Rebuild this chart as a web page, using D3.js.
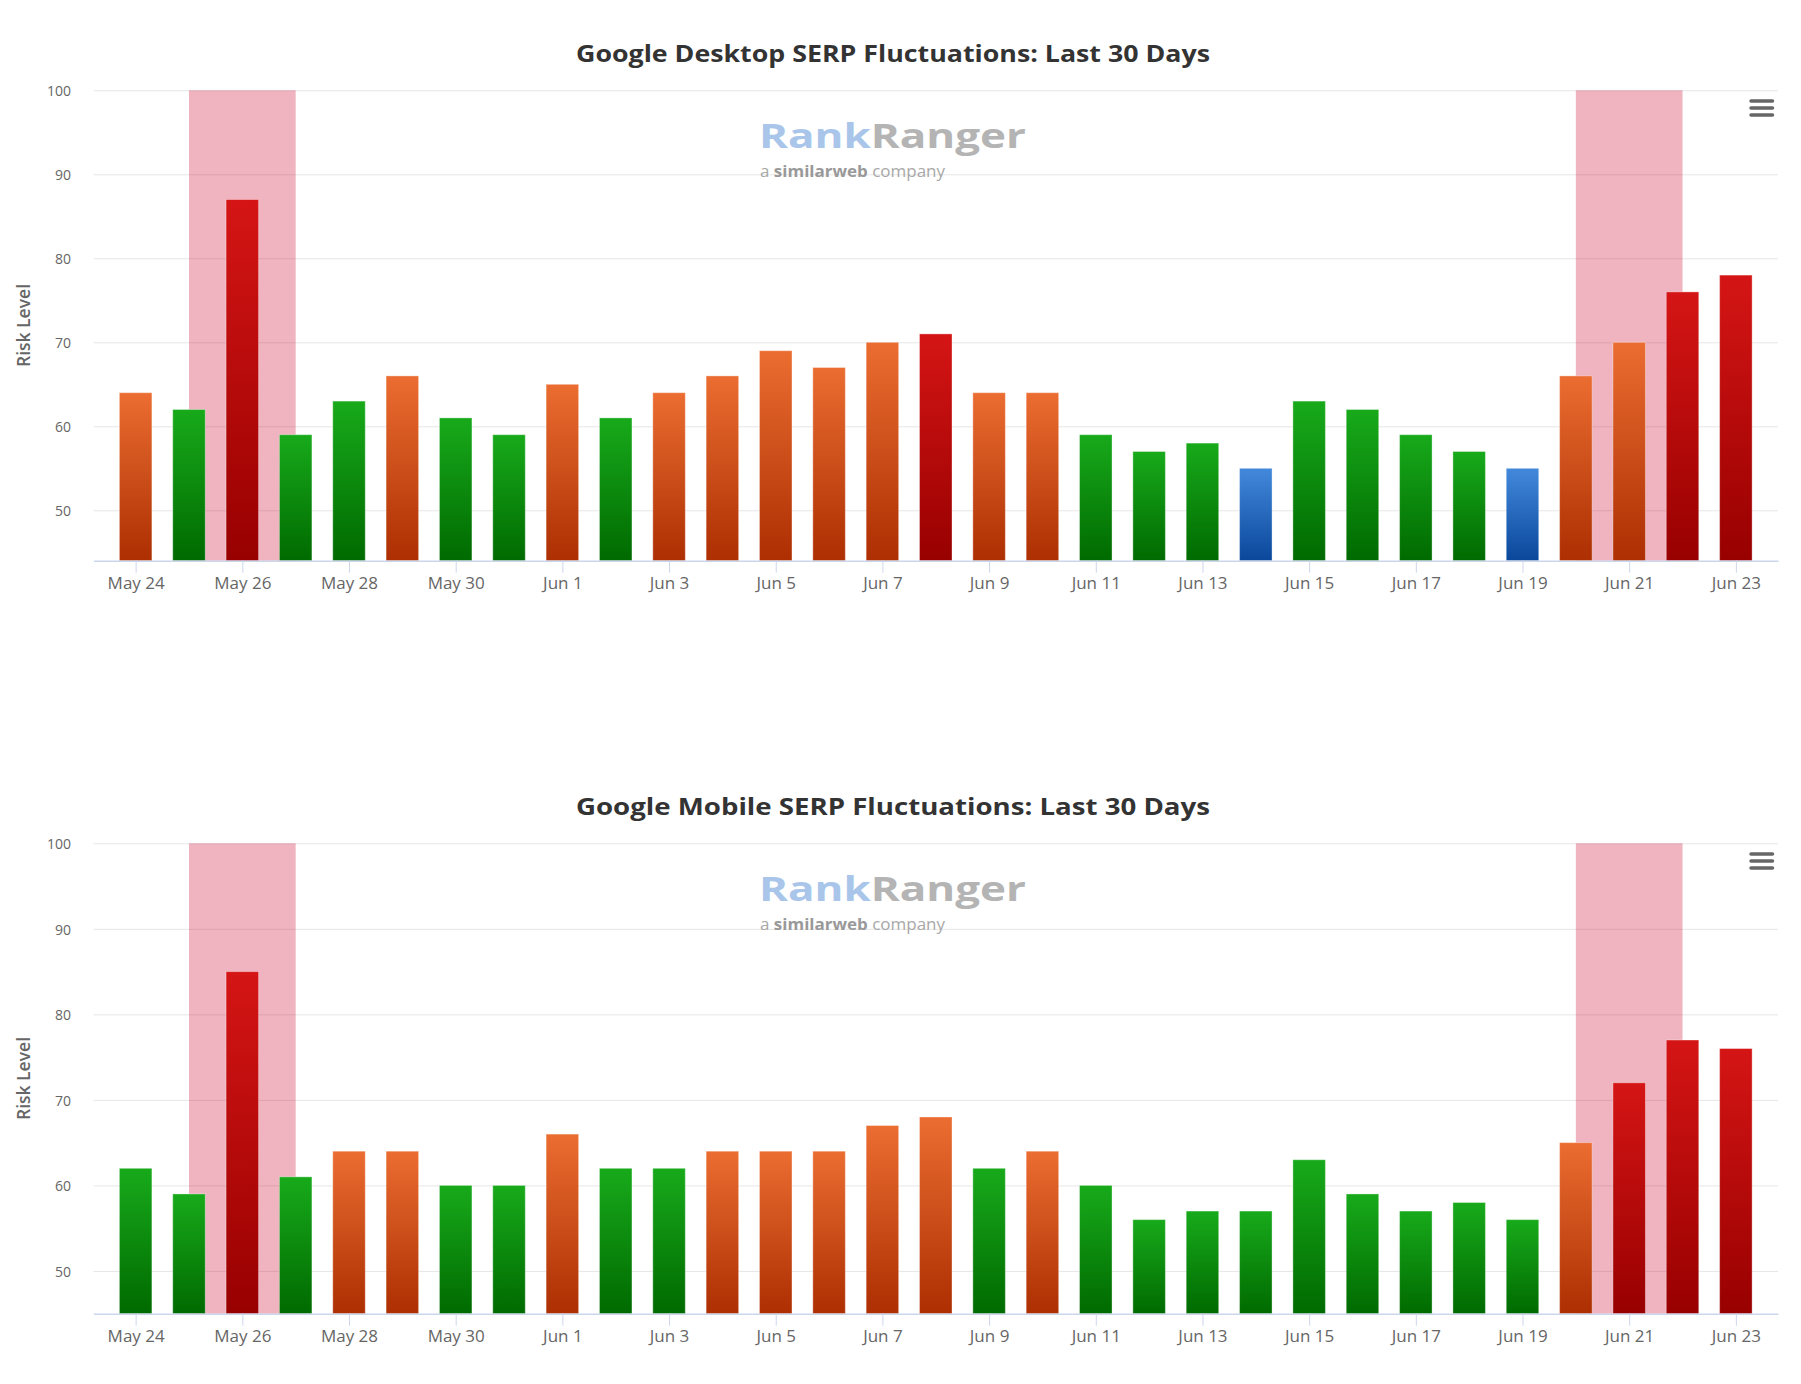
<!DOCTYPE html>
<html>
<head>
<meta charset="utf-8">
<script src="https://cdn.jsdelivr.net/npm/d3@7"></script>
<style>
  html, body { margin: 0; padding: 0; background: #fff; }
  svg { display: block; }
</style>
</head>
<body>
<svg id="chart" width="1801" height="1384"></svg>
<script>
// ---------- DATA ----------
const days = ["May 24","May 25","May 26","May 27","May 28","May 29","May 30","May 31",
  "Jun 1","Jun 2","Jun 3","Jun 4","Jun 5","Jun 6","Jun 7","Jun 8","Jun 9","Jun 10",
  "Jun 11","Jun 12","Jun 13","Jun 14","Jun 15","Jun 16","Jun 17","Jun 18","Jun 19",
  "Jun 20","Jun 21","Jun 22","Jun 23"];
const tickLabels = ["May 24","May 26","May 28","May 30","Jun 1","Jun 3","Jun 5","Jun 7",
  "Jun 9","Jun 11","Jun 13","Jun 15","Jun 17","Jun 19","Jun 21","Jun 23"];
const desktopValues = [64,62,87,59,63,66,61,59,65,61,64,66,69,67,70,71,64,64,59,57,58,55,63,62,59,57,55,66,70,76,78];
const mobileValues  = [62,59,85,61,64,64,60,60,66,62,62,64,64,64,67,68,62,64,60,56,57,57,63,59,57,58,56,65,72,77,76];
const yTicks = [50,60,70,80,90,100];
const highlightBands = [["May 25","May 27"],["Jun 20","Jun 22"]];
const desktopTitle = "Google Desktop SERP Fluctuations: Last 30 Days";
const mobileTitle  = "Google Mobile SERP Fluctuations: Last 30 Days";
const desktopMin = 44, mobileMin = 45, yMax = 100;

// ---------- STYLE / LAYOUT ----------
const plotL = 93.5, plotR = 1778, plotT = 90.3, plotB = 560.7;
const chartOffset = 753;
const barW = 32.5;
const fontUI = "'Open Sans', 'Noto Sans', 'DejaVu Sans', sans-serif";

function riskClass(v) {
  if (v > 70) return "red";
  if (v >= 64) return "orange";
  if (v >= 56) return "green";
  return "blue";
}
const gradStops = {
  red:    ["#d51515", "#980000"],
  orange: ["#eb6d31", "#ad2f02"],
  green:  ["#18aa1b", "#006a00"],
  blue:   ["#4389db", "#0a479b"]
};

const svg = d3.select("#chart");
const defs = svg.append("defs");
Object.entries(gradStops).forEach(([k, [c1, c2]]) => {
  const g = defs.append("linearGradient").attr("id", "g-" + k)
    .attr("x1", 0).attr("y1", 0).attr("x2", 0).attr("y2", 1);
  g.append("stop").attr("offset", "0%").attr("stop-color", c1);
  g.append("stop").attr("offset", "100%").attr("stop-color", c2);
});

const x = d3.scalePoint().domain(days).range([plotL, plotR]).padding(0.79);

function drawChart(offsetY, title, values, yMin) {
  const g = svg.append("g").attr("transform", `translate(0,${offsetY})`);
  const y = d3.scaleLinear().domain([yMin, yMax]).range([plotB, plotT]);

  // title
  g.append("text")
    .attr("x", 893).attr("y", 62)
    .attr("text-anchor", "middle")
    .attr("font-family", fontUI)
    .attr("font-weight", 700)
    .attr("font-size", 24)
    .attr("fill", "#333333")
    .attr("textLength", 634)
    .attr("lengthAdjust", "spacingAndGlyphs")
    .text(title);

  // grid + y labels
  const yAxis = d3.axisLeft(y).tickValues(yTicks)
    .tickSize(-(plotR - plotL)).tickPadding(22.5);
  const ya = g.append("g").attr("transform", `translate(${plotL},0)`).call(yAxis);
  ya.select(".domain").remove();
  ya.selectAll(".tick line").attr("stroke", "#e6e6e6").attr("stroke-width", 1);
  ya.selectAll(".tick text")
    .attr("font-family", fontUI).attr("font-size", 14).attr("fill", "#666666")
    .attr("dy", "0.38em");

  // y title
  g.append("text")
    .attr("transform", `translate(30,${(plotT + plotB) / 2}) rotate(-90)`)
    .attr("text-anchor", "middle")
    .attr("font-family", fontUI).attr("font-weight", 600)
    .attr("font-size", 17.5).attr("fill", "#666666")
    .text("Risk Level");

  // watermark logo
  const logo = g.append("g");
  const t1 = logo.append("text")
    .attr("x", 759).attr("y", 148)
    .attr("font-family", fontUI).attr("font-weight", 700).attr("font-size", 34)
    .attr("textLength", 267).attr("lengthAdjust", "spacingAndGlyphs");
  t1.append("tspan").attr("fill", "#a9c6ea").text("Rank");
  t1.append("tspan").attr("fill", "#b4b4b4").text("Ranger");
  const t2 = logo.append("text")
    .attr("x", 760).attr("y", 177)
    .attr("font-family", fontUI).attr("font-size", 16).attr("fill", "#a8a8a8")
    .attr("textLength", 185).attr("lengthAdjust", "spacingAndGlyphs");
  t2.append("tspan").text("a ");
  t2.append("tspan").attr("font-weight", 700).attr("fill", "#999999").text("similarweb");
  t2.append("tspan").text(" company");

  // highlight bands
  highlightBands.forEach(([a, b]) => {
    g.append("rect")
      .attr("x", x(a)).attr("width", x(b) - x(a))
      .attr("y", y(yMax)).attr("height", y(yMin) - y(yMax))
      .attr("fill", "rgba(202,8,48,0.3)");
  });

  // bars
  g.append("g").selectAll("rect").data(values).join("rect")
    .attr("x", (d, i) => x(days[i]) - barW / 2)
    .attr("width", barW)
    .attr("y", d => y(d))
    .attr("height", d => y(yMin) - y(d))
    .attr("fill", d => `url(#g-${riskClass(d)})`)
    .attr("stroke", "rgba(255,255,255,0.35)")
    .attr("stroke-width", 1);

  // x axis
  const xAxis = d3.axisBottom(x).tickValues(tickLabels).tickSize(12).tickPadding(4).tickSizeOuter(0);
  const xa = g.append("g").attr("transform", `translate(0,${plotB})`).call(xAxis);
  xa.select(".domain").attr("stroke", "#ccd6eb").attr("stroke-width", 1.5);
  xa.selectAll(".tick line").attr("stroke", "#ccd6eb").attr("stroke-width", 1);
  xa.selectAll(".tick text")
    .attr("font-family", fontUI).attr("font-size", 17).attr("fill", "#666666");

  // hamburger menu
  [101, 108, 115].forEach(yy => {
    g.append("line")
      .attr("x1", 1751).attr("x2", 1772.5).attr("y1", yy).attr("y2", yy)
      .attr("stroke", "#666666").attr("stroke-width", 3.5).attr("stroke-linecap", "round");
  });
}

drawChart(0, desktopTitle, desktopValues, desktopMin);
drawChart(chartOffset, mobileTitle, mobileValues, mobileMin);
</script>
</body>
</html>
